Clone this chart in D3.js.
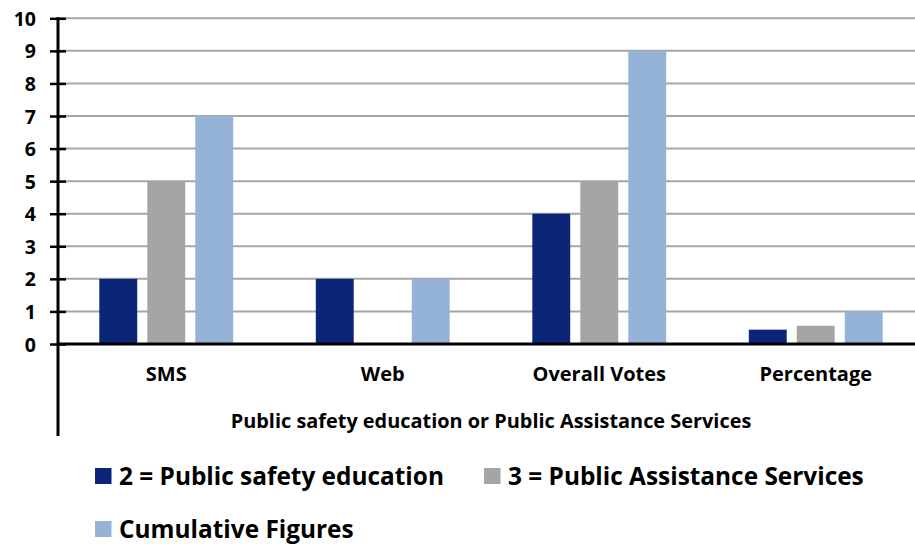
<!DOCTYPE html>
<html><head><meta charset="utf-8">
<script src="https://cdn.jsdelivr.net/npm/d3@7"></script>
<style>body{margin:0;background:#fff;}svg{display:block;font-family:"Open Sans",sans-serif;font-weight:bold;}</style>
</head><body><svg id="c" width="915" height="544"></svg>
<script>
const categories = ["SMS","Web","Overall Votes","Percentage"];
const seriesNames = ["2 = Public safety education","3 = Public Assistance Services","Cumulative Figures"];
const seriesColors = ["#0c2677","#a5a5a5","#95b3d7"];
const publicSafety = [2,2,4,0.44];
const publicAssistance = [5,0,5,0.56];
const cumulative = [7,2,9,1];
const yTicks = [0,1,2,3,4,5,6,7,8,9,10];
const axisTitle = "Public safety education or Public Assistance Services";

const series = [publicSafety, publicAssistance, cumulative];
const svg = d3.select("#c");
const mLeft = 58, mRight = 924, mTop = 18.3, mBottom = 344;
const FONT = "Open Sans";

const x0 = d3.scaleBand().domain(categories).range([mLeft, mRight]).paddingInner(0.335).paddingOuter(0.1675);
const x1 = d3.scaleBand().domain(d3.range(3)).range([0, x0.bandwidth()]).paddingInner(0.21).paddingOuter(0.105);
const y = d3.scaleLinear().domain([0,10]).range([mBottom, mTop]);

// gridlines
svg.append("g").selectAll("line").data(yTicks.filter(d=>d>0)).join("line")
  .attr("x1", mLeft).attr("x2", 915).attr("y1", d=>y(d)).attr("y2", d=>y(d))
  .attr("stroke", "#a6a6a6").attr("stroke-width", 2);

// bars
const g = svg.append("g").selectAll("g").data(categories).join("g")
  .attr("transform", d=>`translate(${x0(d)},0)`);
g.selectAll("rect").data((c,i)=>series.map((s,k)=>({k, v:s[i]}))).join("rect")
  .attr("x", d=>x1(d.k)).attr("width", x1.bandwidth())
  .attr("y", d=>y(d.v)).attr("height", d=>y(0)-y(d.v))
  .attr("fill", d=>seriesColors[d.k]);

// y axis
const yAxis = svg.append("g").attr("transform", `translate(${mLeft},0)`)
  .call(d3.axisLeft(y).tickValues(yTicks).tickSize(0).tickPadding(22));
yAxis.select(".domain").remove();
yAxis.selectAll("text").attr("font-size", 19.5).attr("font-weight","bold").attr("font-family",FONT).attr("fill","#000").attr("dy","0.36em");
yAxis.selectAll(".tick").append("line").attr("x1",-8).attr("x2",8).attr("stroke","#000").attr("stroke-width",2.5);
svg.append("line").attr("x1", mLeft).attr("x2", mLeft).attr("y1", mTop-1).attr("y2", 436)
  .attr("stroke","#000").attr("stroke-width",3);

// x axis
const xAxis = svg.append("g").attr("transform", `translate(0,${mBottom})`)
  .call(d3.axisBottom(x0).tickSize(0).tickPadding(23));
xAxis.select(".domain").remove();
xAxis.selectAll("text").attr("font-size", 20).attr("font-weight","bold").attr("font-family",FONT).attr("fill","#000").attr("dy","0.71em");
svg.append("line").attr("x1", mLeft).attr("x2", 915).attr("y1", mBottom).attr("y2", mBottom)
  .attr("stroke","#000").attr("stroke-width",3);

svg.append("text").attr("x", (mLeft+mRight)/2).attr("y", 428).attr("text-anchor","middle")
  .attr("font-size", 19.9).text(axisTitle);

// legend
const legendPos = [{x:95,y:468},{x:484,y:468},{x:95,y:521}];
const lg = svg.append("g").selectAll("g").data(seriesNames).join("g")
  .attr("transform",(d,i)=>`translate(${legendPos[i].x},${legendPos[i].y})`);
lg.append("rect").attr("width",16.5).attr("height",16).attr("fill",(d,i)=>seriesColors[i]);
lg.append("text").attr("x",24).attr("y",16.5).attr("font-size",24.4).text(d=>d);
</script></body></html>
